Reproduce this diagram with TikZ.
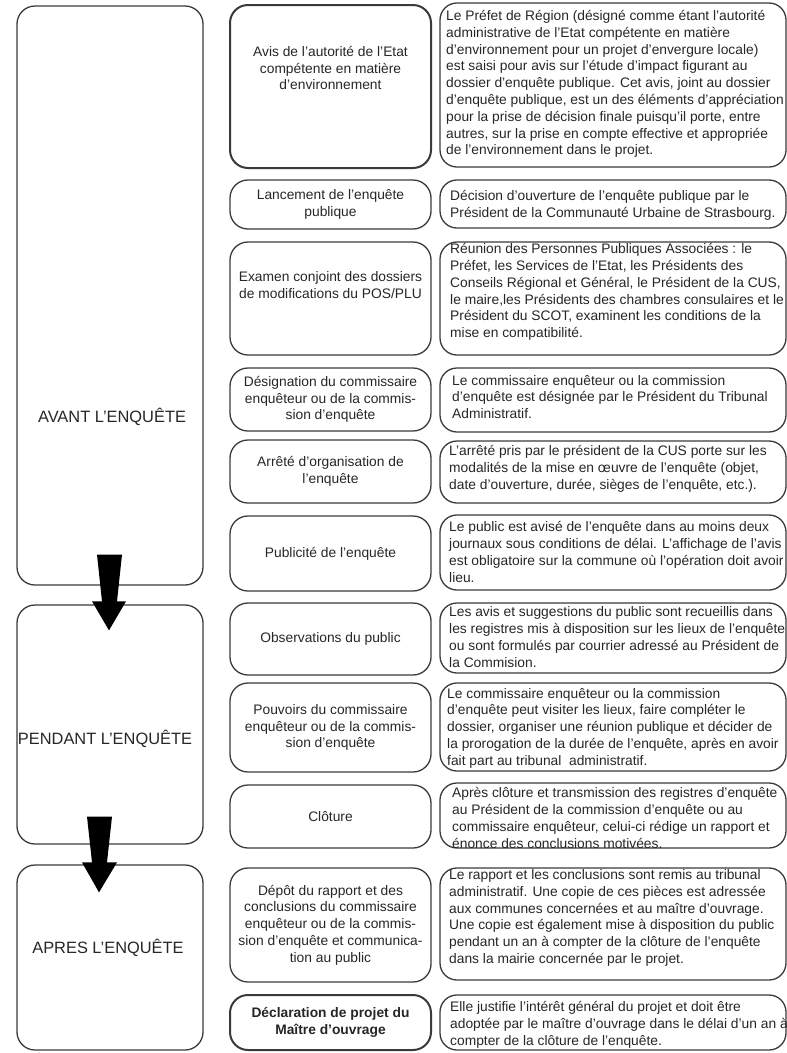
\documentclass[tikz,border=0pt]{standalone}
\usepackage{fontspec}
\setmainfont{Liberation Sans}
\usepackage{tikz}
\usetikzlibrary{arrows.meta,positioning}
\definecolor{EdgeGray}{HTML}{3A3A3A}
\definecolor{InkGray}{HTML}{262626}

\begin{document}
\begin{tikzpicture}[
    x=1pt, y=-1pt,
    every node/.style={text=InkGray, font=\fontsize{13.8}{16.8}\selectfont},
    phase/.style={draw=EdgeGray, line width=1.3pt, rounded corners=18pt, minimum width=186pt},
    phaselabel/.style={font=\fontsize{16.4}{19}\selectfont},
    stepbox/.style={draw=EdgeGray, line width=1.3pt, rounded corners=18pt, minimum width=201pt, align=center, inner sep=2pt},
    keybox/.style={stepbox, line width=2pt},
    steptext/.style={align=center, inner sep=0pt},
    descbox/.style={draw=EdgeGray, line width=1.3pt, rounded corners=17pt, minimum width=346pt},
    desctext/.style={anchor=west, align=left, inner sep=0pt},
    bigarrow/.style={fill=black, draw=none}
]
    \useasboundingbox (0,0) rectangle (787,1053);

    \node[phase, minimum height=579pt] (avant) at (110, 295.5) {};
    \node[phase, minimum height=239pt] (pendant) at (110, 724.5) {};
    \node[phase, minimum height=185pt] (apres) at (110, 957.5) {};
    \node[phaselabel] (avantT) at (112, 417) {AVANT L'ENQUÊTE};
    \node[phaselabel] (pendantT) at (105, 739) {PENDANT L'ENQUÊTE};
    \node[phaselabel] (apresT) at (108, 948) {APRES L'ENQUÊTE};

    \fill[bigarrow] ([xshift=-13pt, yshift=31pt]avant.south) -- ([xshift=12pt, yshift=31pt]avant.south)
        -- ([xshift=7pt, yshift=3pt]pendant.north) -- ([xshift=16pt, yshift=3pt]pendant.north)
        -- ([xshift=-1pt, yshift=-26pt]pendant.north) -- ([xshift=-18pt, yshift=3pt]pendant.north)
        -- ([xshift=-8pt, yshift=3pt]pendant.north) -- cycle;
    \fill[bigarrow] ([xshift=-23pt, yshift=28pt]pendant.south) -- ([xshift=2pt, yshift=28pt]pendant.south)
        -- ([xshift=-3pt, yshift=2pt]apres.north) -- ([xshift=7pt, yshift=2pt]apres.north)
        -- ([xshift=-11pt, yshift=-28pt]apres.north) -- ([xshift=-28pt, yshift=2pt]apres.north)
        -- ([xshift=-18pt, yshift=2pt]apres.north) -- cycle;

    \node[keybox, minimum height=163pt] (avis) at (330.5, 86.5) {};
    \node[steptext] (avisT) at (330.5, 68) {Avis de l'autorité de l'Etat\\compétente en matière\\d'environnement};
    \node[stepbox, minimum height=49pt] (lancement) at (330.5, 204.5) {Lancement de l'enquête\\publique};
    \node[stepbox, minimum height=113pt] (examen) at (330.5, 298.5) {};
    \node[steptext] (examenT) at (330.5, 285) {Examen conjoint des dossiers\\de modifications du POS/PLU};
    \node[stepbox, minimum height=63pt] (designation) at (330.5, 399.5) {Désignation du commissaire\\enquêteur ou de la commis-\\sion d'enquête};
    \node[stepbox, minimum height=63pt] (arrete) at (330.5, 471.5) {Arrêté d'organisation de\\l'enquête};
    \node[stepbox, minimum height=75pt] (publicite) at (330.5, 553.5) {Publicité de l'enquête};
    \node[stepbox, minimum height=72pt] (observations) at (330.5, 639) {Observations du public};
    \node[stepbox, minimum height=89pt] (pouvoirs) at (330.5, 727.5) {Pouvoirs du commissaire\\enquêteur ou de la commis-\\sion d'enquête};
    \node[stepbox, minimum height=63pt] (cloture) at (330.5, 816.5) {Clôture};
    \node[stepbox, minimum height=114pt] (depot) at (330.5, 925) {Dépôt du rapport et des\\conclusions du commissaire\\enquêteur ou de la commis-\\sion d'enquête et communica-\\tion au public};
    \node[keybox, minimum height=55pt, font=\fontsize{13.8}{16.8}\selectfont\bfseries] (declaration) at (330.5, 1022.5) {Déclaration de projet du\\Maître d'ouvrage};

    \node[descbox, minimum height=164pt] (avisD) at (613, 85) {};
    \node[descbox, minimum height=48pt] (lancementD) at (613, 204) {};
    \node[descbox, minimum height=113pt] (examenD) at (613, 298.5) {};
    \node[descbox, minimum height=64pt] (designationD) at (613, 400) {};
    \node[descbox, minimum height=62pt] (arreteD) at (613, 472) {};
    \node[descbox, minimum height=75pt] (publiciteD) at (613, 552.5) {};
    \node[descbox, minimum height=70pt] (observationsD) at (613, 638) {};
    \node[descbox, minimum height=88pt] (pouvoirsD) at (613, 727) {};
    \node[descbox, minimum height=65pt] (clotureD) at (613, 815.5) {};
    \node[descbox, minimum height=112pt] (depotD) at (613, 924) {};
    \node[descbox, minimum height=55pt] (declarationD) at (613, 1022.5) {};

    \node[desctext] (avisDT) at (446, 84) {Le Préfet de Région (désigné comme étant l'autorité\\administrative de l'Etat compétente en matière\\d'environnement pour un projet d'envergure locale)\\est saisi pour avis sur l'étude d'impact figurant au\\dossier d'enquête publique. Cet avis, joint au dossier\\d'enquête publique, est un des éléments d'appréciation\\pour la prise de décision finale puisqu'il porte, entre\\autres, sur la prise en compte effective et appropriée\\de l'environnement dans le projet.};
    \node[desctext] (lancementDT) at (450, 205) {Décision d'ouverture de l'enquête publique par le\\Président de la Communauté Urbaine de Strasbourg.};
    \node[desctext] (examenDT) at (450, 292) {Réunion des Personnes Publiques Associées : le\\Préfet, les Services de l'Etat, les Présidents des\\Conseils Régional et Général, le Président de la CUS,\\le maire,les Présidents des chambres consulaires et le\\Président du SCOT, examinent les conditions de la\\mise en compatibilité.};
    \node[desctext] (designationDT) at (452, 397) {Le commissaire enquêteur ou la commission\\d'enquête est désignée par le Président du Tribunal\\Administratif.};
    \node[desctext] (arreteDT) at (449, 469) {L'arrêté pris par le président de la CUS porte sur les\\modalités de la mise en œuvre de l'enquête (objet,\\date d'ouverture, durée, sièges de l'enquête, etc.).};
    \node[desctext] (publiciteDT) at (449, 552) {Le public est avisé de l'enquête dans au moins deux\\journaux sous conditions de délai. L'affichage de l'avis\\est obligatoire sur la commune où l'opération doit avoir\\lieu.};
    \node[desctext] (observationsDT) at (449, 637) {Les avis et suggestions du public sont recueillis dans\\les registres mis à disposition sur les lieux de l'enquête\\ou sont formulés par courrier adressé au Président de\\la Commision.};
    \node[desctext] (pouvoirsDT) at (447, 728) {Le commissaire enquêteur ou la commission\\d'enquête peut visiter les lieux, faire compléter le\\dossier, organiser une réunion publique et décider de\\la prorogation de la durée de l'enquête, après en avoir\\fait part au tribunal\ \ administratif.};
    \node[desctext] (clotureDT) at (452, 818) {Après clôture et transmission des registres d'enquête\\au Président de la commission d'enquête ou au\\commissaire enquêteur, celui-ci rédige un rapport et\\énonce des conclusions motivées.};
    \node[desctext] (depotDT) at (449, 918) {Le rapport et les conclusions sont remis au tribunal\\administratif. Une copie de ces pièces est adressée\\aux communes concernées et au maître d'ouvrage.\\Une copie est également mise à disposition du public\\pendant un an à compter de la clôture de l'enquête\\dans la mairie concernée par le projet.};
    \node[desctext] (declarationDT) at (450, 1025) {Elle justifie l'intérêt général du projet et doit être\\adoptée par le maître d'ouvrage dans le délai d'un an à\\compter de la clôture de l'enquête.};
\end{tikzpicture}
\end{document}
